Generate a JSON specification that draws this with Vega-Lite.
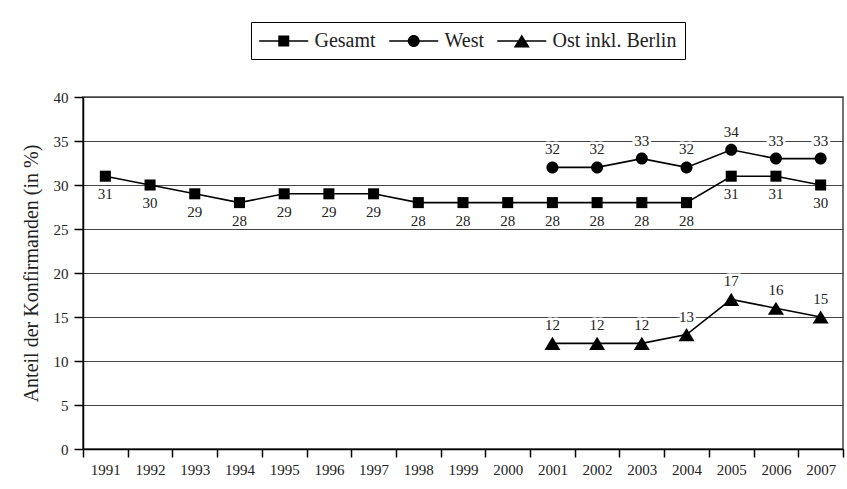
{
  "$schema": "https://vega.github.io/schema/vega-lite/v6.json",
  "width": 760,
  "height": 352,
  "autosize": {"type": "none"},
  "padding": {"left": 83, "top": 97, "right": 4, "bottom": 40},
  "background": "white",
  "config": {
    "font": "Liberation Serif",
    "text": {"font": "Liberation Serif"},
    "legend": {"labelFont": "Liberation Serif"},
    "view": {"stroke": "#444", "strokeWidth": 1.5},
    "axis": {
      "labelFont": "Liberation Serif",
      "titleFont": "Liberation Serif",
      "labelColor": "#222",
      "titleColor": "#222",
      "domainColor": "black",
      "domainWidth": 1.5,
      "tickColor": "black",
      "tickWidth": 1.5
    }
  },
  "data": {
    "values": [
      {"year": "1991", "series": "Gesamt", "value": 31},
      {"year": "1992", "series": "Gesamt", "value": 30},
      {"year": "1993", "series": "Gesamt", "value": 29},
      {"year": "1994", "series": "Gesamt", "value": 28},
      {"year": "1995", "series": "Gesamt", "value": 29},
      {"year": "1996", "series": "Gesamt", "value": 29},
      {"year": "1997", "series": "Gesamt", "value": 29},
      {"year": "1998", "series": "Gesamt", "value": 28},
      {"year": "1999", "series": "Gesamt", "value": 28},
      {"year": "2000", "series": "Gesamt", "value": 28},
      {"year": "2001", "series": "Gesamt", "value": 28},
      {"year": "2002", "series": "Gesamt", "value": 28},
      {"year": "2003", "series": "Gesamt", "value": 28},
      {"year": "2004", "series": "Gesamt", "value": 28},
      {"year": "2005", "series": "Gesamt", "value": 31},
      {"year": "2006", "series": "Gesamt", "value": 31},
      {"year": "2007", "series": "Gesamt", "value": 30},
      {"year": "2001", "series": "West", "value": 32},
      {"year": "2002", "series": "West", "value": 32},
      {"year": "2003", "series": "West", "value": 33},
      {"year": "2004", "series": "West", "value": 32},
      {"year": "2005", "series": "West", "value": 34},
      {"year": "2006", "series": "West", "value": 33},
      {"year": "2007", "series": "West", "value": 33},
      {"year": "2001", "series": "Ost inkl. Berlin", "value": 12},
      {"year": "2002", "series": "Ost inkl. Berlin", "value": 12},
      {"year": "2003", "series": "Ost inkl. Berlin", "value": 12},
      {"year": "2004", "series": "Ost inkl. Berlin", "value": 13},
      {"year": "2005", "series": "Ost inkl. Berlin", "value": 17},
      {"year": "2006", "series": "Ost inkl. Berlin", "value": 16},
      {"year": "2007", "series": "Ost inkl. Berlin", "value": 15}
    ]
  },
  "encoding": {
    "x": {
      "field": "year",
      "type": "ordinal",
      "scale": {"paddingInner": 0, "paddingOuter": 0},
      "axis": {
        "title": null,
        "labelAngle": 0,
        "labelFontSize": 15,
        "tickBand": "extent",
        "tickSize": 8,
        "labelPadding": 5,
        "grid": false
      }
    },
    "y": {
      "field": "value",
      "type": "quantitative",
      "scale": {"domain": [0, 40], "nice": false},
      "axis": {
        "title": "Anteil der Konfirmanden (in %)",
        "titleFontSize": 20,
        "titleFontWeight": "normal",
        "titlePadding": 12,
        "values": [0, 5, 10, 15, 20, 25, 30, 35, 40],
        "labelFontSize": 15,
        "labelPadding": 6,
        "tickSize": 9,
        "grid": true,
        "gridColor": "#444",
        "gridWidth": 1.2
      }
    }
  },
  "resolve": {"scale": {"shape": "independent"}},
  "layer": [
    {
      "mark": {"type": "line", "color": "black", "strokeWidth": 1.6},
      "encoding": {"detail": {"field": "series"}}
    },
    {
      "mark": {"type": "point", "filled": true, "color": "black", "opacity": 0, "size": 400},
      "encoding": {
        "shape": {
          "field": "series",
          "type": "nominal",
          "scale": {
            "domain": ["Gesamt", "West", "Ost inkl. Berlin"],
            "range": [
              "M-1.075,-0.075H3.825V0.075H-1.075ZM0.825,-0.55H1.925V0.55H0.825Z",
              "M-1.075,-0.075H3.825V0.075H-1.075ZM0.775,0A0.6,0.6,0,1,1,1.975,0A0.6,0.6,0,1,1,0.775,0Z",
              "M-1.075,-0.075H3.825V0.075H-1.075ZM1.375,-0.65L2.175,0.65H0.575Z"
            ]
          },
          "legend": {
            "orient": "none",
            "legendX": 168,
            "legendY": -75,
            "direction": "horizontal",
            "title": null,
            "strokeColor": "black",
            "fillColor": "white",
            "padding": 8,
            "symbolSize": 400,
            "symbolStrokeWidth": 1.5,
            "symbolFillColor": "black",
            "labelFont": "Liberation Serif",
            "labelFontSize": 20,
            "labelColor": "#222",
            "labelOffset": 33.5,
            "columnPadding": 10
          }
        }
      }
    },
    {
      "mark": {"type": "point", "filled": true, "color": "black", "opacity": 1, "size": 256},
      "encoding": {
        "shape": {
          "field": "series",
          "type": "nominal",
          "scale": {
            "domain": ["Gesamt", "West", "Ost inkl. Berlin"],
            "range": [
              "M-0.69,-0.69H0.69V0.69H-0.69Z",
              "M-0.75,0A0.75,0.75,0,1,0,0.75,0A0.75,0.75,0,1,0,-0.75,0Z",
              "M0,-0.82L1,0.82H-1Z"
            ]
          },
          "legend": null
        }
      }
    },
    {
      "transform": [{"filter": "datum.series === 'Gesamt'"}],
      "mark": {"type": "text", "dy": 18, "fontSize": 15, "font": "Liberation Serif", "fill": "white", "stroke": "white", "strokeWidth": 5, "baseline": "middle"},
      "encoding": {"text": {"field": "value", "type": "quantitative"}}
    },
    {
      "transform": [{"filter": "datum.series !== 'Gesamt'"}],
      "mark": {"type": "text", "dy": -18, "fontSize": 15, "font": "Liberation Serif", "fill": "white", "stroke": "white", "strokeWidth": 5, "baseline": "middle"},
      "encoding": {"text": {"field": "value", "type": "quantitative"}}
    },
    {
      "transform": [{"filter": "datum.series === 'Gesamt'"}],
      "mark": {"type": "text", "dy": 18, "fontSize": 15, "font": "Liberation Serif", "color": "#222", "baseline": "middle"},
      "encoding": {"text": {"field": "value", "type": "quantitative"}}
    },
    {
      "transform": [{"filter": "datum.series !== 'Gesamt'"}],
      "mark": {"type": "text", "dy": -18, "fontSize": 15, "font": "Liberation Serif", "color": "#222", "baseline": "middle"},
      "encoding": {"text": {"field": "value", "type": "quantitative"}}
    }
  ]
}
